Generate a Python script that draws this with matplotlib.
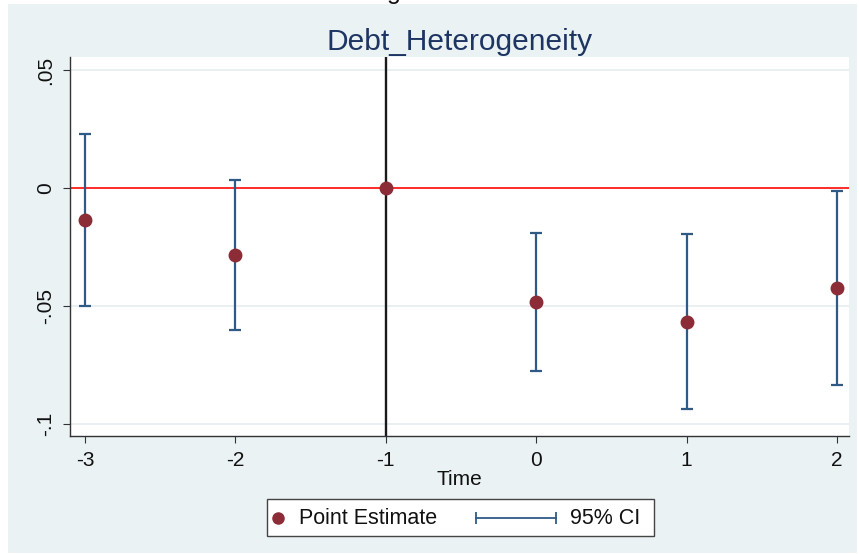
import matplotlib
matplotlib.use("Agg")
import matplotlib.pyplot as plt
from matplotlib.lines import Line2D
from matplotlib.patches import Rectangle

plt.rcParams['font.family'] = ['Liberation Sans', 'DejaVu Sans']

# Event-study estimates
time = [-3, -2, -1, 0, 1, 2]
estimate = [-0.0136, -0.0283, 0.0, -0.0482, -0.0566, -0.0422]
ci_low = [-0.0500, -0.0601, 0.0, -0.0775, -0.0935, -0.0835]
ci_high = [0.0229, 0.0034, 0.0, -0.0189, -0.0195, -0.0011]
yticks = [0.05, 0.0, -0.05, -0.1]
ytick_labels = [".05", "0", "-.05", "-.1"]
xticks = [-3, -2, -1, 0, 1, 2]

W, H = 859, 554
fig = plt.figure(figsize=(W / 100, H / 100), dpi=100)
fig.patch.set_facecolor("white")

bg = "#EAF2F3"
navy = "#2F5A86"
maroon = "#8B2C37"

# light outer panel behind everything
fig.patches.append(Rectangle((8 / W, 1 - 553 / H), (857 - 8) / W, (553 - 4) / H,
                             transform=fig.transFigure, facecolor=bg,
                             edgecolor="none", zorder=-10))

ax = fig.add_axes([70 / W, 1 - 436 / H, (849 - 70) / W, (436 - 57) / H])
ax.set_zorder(1)
ax.set_facecolor("white")
ax.set_xlim(-3.1, 2.08)
ax.set_ylim(-0.105, 0.0555)

for y in yticks:
    ax.axhline(y, color="#E6EEF0", lw=1.2, zorder=1)
ax.axhline(0, color="#FF2A2A", lw=1.4, zorder=2)
ax.axvline(-1, color="#1A1A1A", lw=1.7, zorder=2)

yerr = [[e - lo for e, lo in zip(estimate, ci_low)],
        [hi - e for e, hi in zip(estimate, ci_high)]]
ax.errorbar(time, estimate, yerr=yerr, fmt="none", ecolor=navy,
            elinewidth=1.6, capsize=4, capthick=1.6, zorder=3)
ax.plot(time, estimate, "o", color=maroon, ms=9, zorder=4)

for s in ["top", "right"]:
    ax.spines[s].set_visible(False)
for s in ["left", "bottom"]:
    ax.spines[s].set_color("#333333")
    ax.spines[s].set_linewidth(1.0)

ax.set_yticks(yticks)
ax.set_yticklabels(ytick_labels, rotation=90, va="center")
ax.set_xticks(xticks)
ax.set_xticklabels([str(t) for t in xticks])
ax.tick_params(axis="both", labelsize=15, color="#333333", length=5,
               labelcolor="#111111")
ax.tick_params(axis="x", pad=6)
ax.tick_params(axis="y", pad=6)

ax.set_xlabel("Time", fontsize=15, color="#111111", labelpad=0)
ax.set_title("Debt_Heterogeneity", fontsize=21.5, color="#1E3563", pad=5)

# clipped glyph from the caption above
fig.text(387 / W, 1 + 1.5 / H, "g", fontsize=18, ha="left", va="baseline",
         color="#111111")

# legend box
lx0, lx1, ly0, ly1 = 267, 654, 499, 536
fig.patches.append(Rectangle((lx0 / W, 1 - ly1 / H), (lx1 - lx0) / W, (ly1 - ly0) / H,
                             transform=fig.transFigure, facecolor="white",
                             edgecolor="#444444", lw=1.0, zorder=5))
yc = 1 - 518 / H
fig.lines.append(Line2D([278 / W], [yc], marker="o", ms=8, color=maroon,
                        transform=fig.transFigure, zorder=6))
fig.text(299 / W, yc, "Point Estimate", fontsize=15.5, va="center", ha="left",
         color="#111111", zorder=6)
fig.lines.append(Line2D([476 / W, 556 / W], [yc, yc], color=navy, lw=1.3,
                        marker="|", ms=8, mew=1.3,
                        transform=fig.transFigure, zorder=6))
fig.text(570 / W, yc, "95% CI", fontsize=15.5, va="center", ha="left",
         color="#111111", zorder=6)

fig.savefig("out.png", dpi=100, facecolor=fig.get_facecolor())
